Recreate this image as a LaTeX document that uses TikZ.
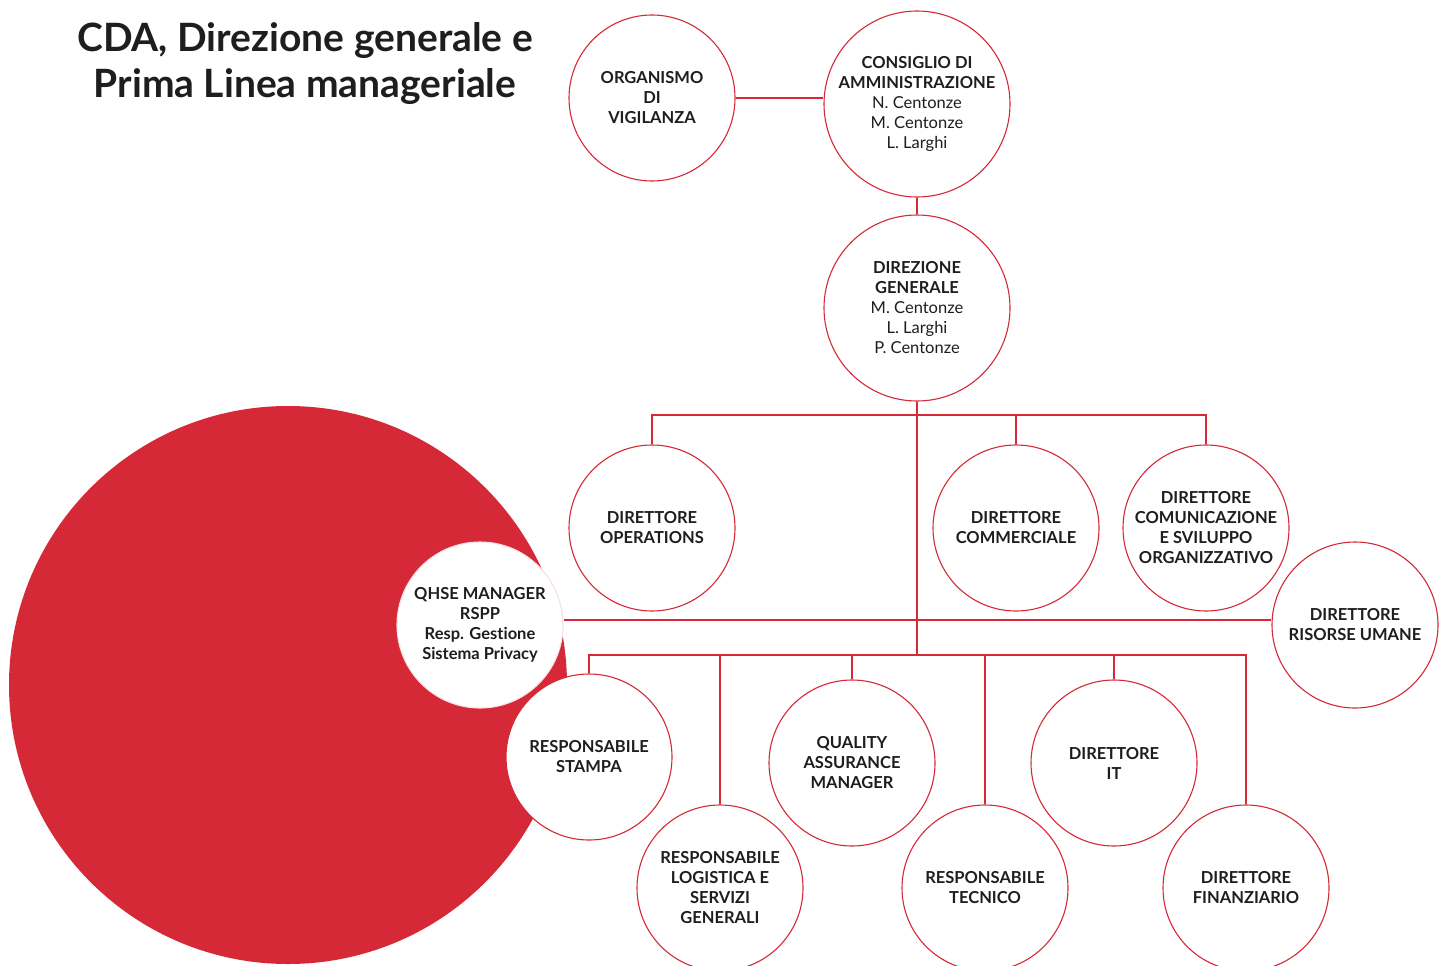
\documentclass[tikz,border=0pt]{standalone}
\usepackage{fontspec}
\setmainfont{Lato}[Ligatures=NoCommon]
\usetikzlibrary{backgrounds}
\definecolor{brandred}{RGB}{214,41,55}
\definecolor{ink}{RGB}{30,30,30}
\begin{document}
\begin{tikzpicture}[x=1pt,y=-1pt,
  unit/.style={circle,draw=brandred,line width=1.1pt,fill=white,inner sep=0pt,
    minimum size=166pt,align=center,text=ink,font=\fontsize{16.5}{20}\selectfont},
  bigunit/.style={unit,minimum size=186pt},
  link/.style={draw=brandred,line width=1.1pt}]
\useasboundingbox (0,0) rectangle (1445,966);
% title
\node[anchor=base,align=center,text=ink,font=\fontsize{39}{46}\bfseries\selectfont] (title) at (305,97)
  {CDA, Direzione generale e\\Prima Linea manageriale};
% big red disc
\node[circle,fill=brandred,inner sep=0pt,minimum size=558pt] (disc) at (288,685) {};
% nodes
\node[unit] (org) at (652,98) {\textbf{ORGANISMO}\\\textbf{DI}\\\textbf{VIGILANZA}};
\node[bigunit] (cda) at (917,104) {\textbf{CONSIGLIO DI}\\\textbf{AMMINISTRAZIONE}\\N. Centonze\\M. Centonze\\L. Larghi};
\node[bigunit] (dg) at (917,308) {\textbf{DIREZIONE}\\\textbf{GENERALE}\\M. Centonze\\L. Larghi\\P. Centonze};
\node[unit] (ops) at (652,528) {\textbf{DIRETTORE}\\\textbf{OPERATIONS}};
\node[unit] (comm) at (1016,528) {\textbf{DIRETTORE}\\\textbf{COMMERCIALE}};
\node[unit] (comu) at (1206,528) {\textbf{DIRETTORE}\\\textbf{COMUNICAZIONE}\\\textbf{E SVILUPPO}\\\textbf{ORGANIZZATIVO}};
\node[unit] (hr) at (1355,625) {\textbf{DIRETTORE}\\\textbf{RISORSE UMANE}};
\node[unit,draw=white!85!brandred] (qhse) at (480,625) {\textbf{QHSE MANAGER}\\\textbf{RSPP}\\\textbf{Resp. Gestione}\\\textbf{Sistema Privacy}};
\node[unit] (stampa) at (589,757) {\textbf{RESPONSABILE}\\\textbf{STAMPA}};
\node[unit] (logi) at (720,888) {\textbf{RESPONSABILE}\\\textbf{LOGISTICA E}\\\textbf{SERVIZI}\\\textbf{GENERALI}};
\node[unit] (qa) at (852,763) {\textbf{QUALITY}\\\textbf{ASSURANCE}\\\textbf{MANAGER}};
\node[unit] (tec) at (985,888) {\textbf{RESPONSABILE}\\\textbf{TECNICO}};
\node[unit] (it) at (1114,763) {\textbf{DIRETTORE}\\\textbf{IT}};
\node[unit] (fin) at (1246,888) {\textbf{DIRETTORE}\\\textbf{FINANZIARIO}};
% bus coordinates
\coordinate (b1) at (917,415);
\coordinate (b2) at (917,620);
\coordinate (b3) at (917,655);
\begin{scope}[on background layer]
\fill[white] (0,0) rectangle (1445,966);
\draw[link] (org.east) -- (org.east -| cda.west);
\draw[link] (cda.south) -- (dg.north);
\draw[link] (dg.south) -- (b3);
\draw[link] (ops.north) -- (ops.north |- b1) -- (comu.north |- b1) -- (comu.north);
\draw[link] (comm.north) -- (comm.north |- b1);
\draw[link] (qhse.east |- b2) -- (hr.west |- b2);
\draw[link] (stampa.north) -- (stampa.north |- b3) -- (fin.north |- b3) -- (fin.north);
\draw[link] (logi.north) -- (logi.north |- b3);
\draw[link] (qa.north) -- (qa.north |- b3);
\draw[link] (tec.north) -- (tec.north |- b3);
\draw[link] (it.north) -- (it.north |- b3);
\end{scope}
\end{tikzpicture}
\end{document}
